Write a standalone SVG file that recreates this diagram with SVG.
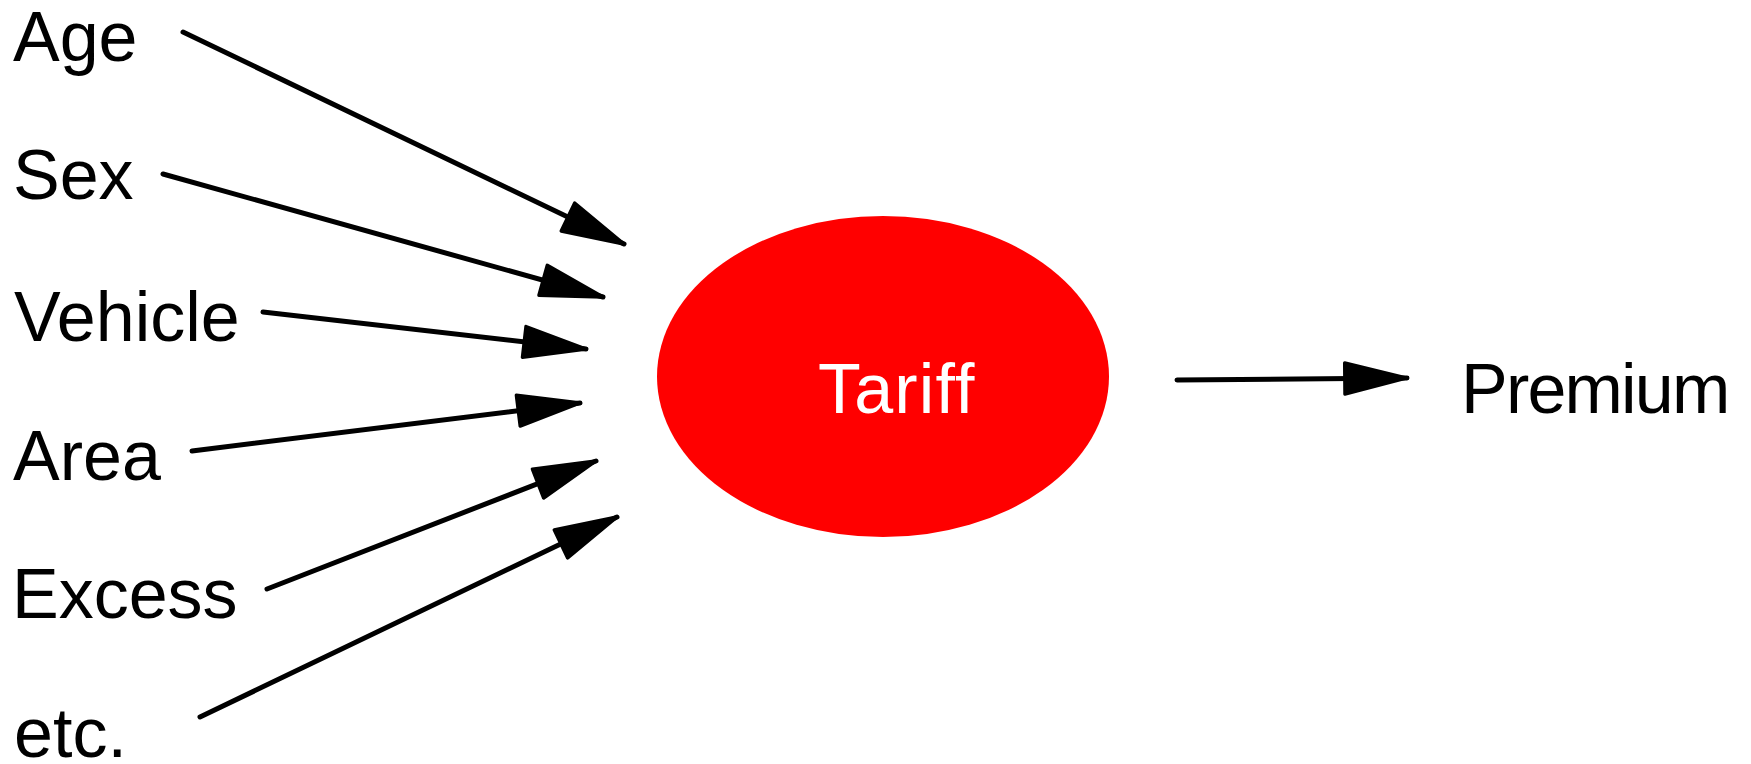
<svg xmlns="http://www.w3.org/2000/svg" width="1751" height="764" viewBox="0 0 1751 764">
  <style>
    .label { font-family: "Liberation Sans", Arial, sans-serif; font-size: 70px; fill: #000; }
    .inner { font-family: "Liberation Sans", Arial, sans-serif; font-size: 70px; fill: #fff; letter-spacing: 1.2px; }
    .edge { stroke: #000; stroke-width: 5; stroke-linecap: round; fill: none; marker-end: url(#head); }
  </style>
  <defs>
    <marker id="head" markerUnits="userSpaceOnUse" markerWidth="70" markerHeight="40" viewBox="-2 -18 62 36" refX="56" refY="0" orient="auto" overflow="visible">
      <path d="M0,-14 L56,0 L0,14 Z" fill="#000" stroke="#000" stroke-width="3" stroke-linejoin="round"/>
    </marker>
  </defs>
  <rect width="1751" height="764" fill="#fff"/>

  <g id="connectors">
    <line class="edge" x1="183" y1="32" x2="624" y2="244"/>
    <line class="edge" x1="163" y1="174" x2="603" y2="297"/>
    <line class="edge" x1="263" y1="312" x2="586" y2="349"/>
    <line class="edge" x1="192" y1="451" x2="580" y2="403"/>
    <line class="edge" x1="267" y1="589" x2="596" y2="461"/>
    <line class="edge" x1="200" y1="717" x2="617" y2="517"/>
    <line class="edge" x1="1177" y1="380" x2="1407" y2="378"/>
  </g>

  <g id="age"><text class="label" x="13" y="61">Age</text></g>
  <g id="sex"><text class="label" x="13" y="199">Sex</text></g>
  <g id="vehicle"><text class="label" x="14" y="341">Vehicle</text></g>
  <g id="area"><text class="label" x="13" y="480">Area</text></g>
  <g id="excess"><text class="label" x="12" y="618">Excess</text></g>
  <g id="etc"><text class="label" x="14" y="757">etc.</text></g>

  <g id="tariff">
    <ellipse cx="883" cy="376.5" rx="226" ry="160.5" fill="#ff0000"/>
    <text class="inner" x="818" y="413">Tariff</text>
  </g>

  <g id="premium"><text class="label" x="1461" y="413" style="letter-spacing:-1.8px">Premium</text></g>
</svg>
